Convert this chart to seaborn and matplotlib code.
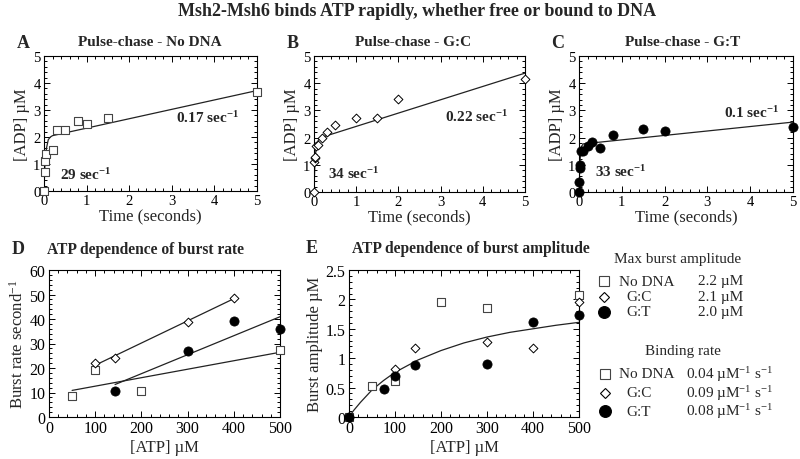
import numpy as np
import pandas as pd
import seaborn as sns
import matplotlib.pyplot as plt
from matplotlib.lines import Line2D
from matplotlib.ticker import MultipleLocator, AutoMinorLocator, FuncFormatter

# pulse-chase, panel A (no DNA)
time_a = [0, 0.02, 0.03, 0.05, 0.2, 0.3, 0.5, 0.8, 1.0, 1.5, 5.0]
adp_a = [0, 0.72, 1.12, 1.38, 1.52, 2.25, 2.27, 2.6, 2.5, 2.7, 3.65]
fit_time_a = [0, 0.01, 0.02, 0.04, 0.06, 0.1, 0.15, 0.2, 0.4, 5.0]
fit_adp_a = [0, 0.5, 0.9, 1.3, 1.6, 1.9, 2.0, 2.05, 2.12, 3.72]

# panel B (G:C)
time_b = [0, 0.01, 0.02, 0.03, 0.05, 0.1, 0.2, 0.3, 0.5, 1.0, 1.5, 2.0, 5.0]
adp_b = [0, 1.1, 1.25, 1.3, 1.68, 1.72, 2.0, 2.22, 2.48, 2.72, 2.72, 3.42, 4.17]
fit_time_b = [0, 0.01, 0.02, 0.04, 0.06, 0.1, 0.15, 0.2, 5.0]
fit_adp_b = [0, 0.55, 1.0, 1.45, 1.7, 1.9, 1.98, 2.02, 4.37]

# panel C (G:T)
time_c = [0, 0.01, 0.02, 0.03, 0.05, 0.1, 0.2, 0.3, 0.5, 0.8, 1.5, 2.0, 5.0]
adp_c = [0, 0.35, 0.9, 1.0, 1.52, 1.5, 1.68, 1.85, 1.6, 2.08, 2.3, 2.23, 2.4]
fit_time_c = [0, 0.01, 0.02, 0.04, 0.06, 0.1, 5.0]
fit_adp_c = [0, 0.6, 1.05, 1.5, 1.68, 1.77, 2.57]

# panel D, burst rate vs ATP
atp_rate_nodna = [50, 100, 200, 500]
rate_nodna = [8.6, 19.2, 10.6, 27.5]
atp_rate_gc = [100, 143, 300, 400]
rate_gc = [22, 24.2, 38.8, 48.7]
atp_rate_gt = [143, 300, 400, 500]
rate_gt = [10.7, 27, 39.2, 35.9]

# panel E, burst amplitude vs ATP
atp_amp_nodna = [0, 50, 100, 200, 300, 500]
amp_nodna = [0, 0.53, 0.62, 1.96, 1.85, 2.07]
atp_amp_gc = [0, 100, 143, 300, 400, 500]
amp_gc = [0, 0.82, 1.18, 1.28, 1.17, 1.96]
atp_amp_gt = [0, 75, 100, 143, 300, 400, 500]
amp_gt = [0, 0.48, 0.69, 0.89, 0.9, 1.62, 1.73]
fit_atp_e = [0, 10, 25, 50, 75, 100, 150, 200, 250, 300, 350, 400, 450, 500]
fit_amp_e = [0, 0.11, 0.25, 0.46, 0.62, 0.76, 0.97, 1.13, 1.26, 1.36, 1.44, 1.5, 1.56, 1.61]

legend_names = ["No DNA", "G:C", "G:T"]
max_amplitude = ["2.2 \u00b5M", "2.1 \u00b5M", "2.0 \u00b5M"]
binding_rate = ["0.04", "0.09", "0.08"]

sns.set_theme(style="ticks")
plt.rcParams["font.family"] = ["Liberation Serif", "DejaVu Serif"]
plt.rcParams["mathtext.fontset"] = "custom"
plt.rcParams["mathtext.rm"] = "Liberation Serif"
plt.rcParams["mathtext.it"] = "Liberation Serif:italic"
plt.rcParams["mathtext.bf"] = "Liberation Serif:bold"

W, H = 800, 460
fig = plt.figure(figsize=(8, 4.6), dpi=100)


def box(l, t, r, b):
    return [l / W, 1 - b / H, (r - l) / W, (b - t) / H]


def ftext(x, y, s, **kw):
    fig.text(x / W, 1 - y / H, s, **kw)


styles = {
    "No DNA": dict(marker="s", s=36, color="white", edgecolor="#444444", linewidth=0.8),
    "G:C": dict(marker="D", s=20, color="white", edgecolor="black", linewidth=0.7),
    "G:T": dict(marker="o", s=44, color="black", edgecolor="black", linewidth=0.5),
}


def style_axes(ax, tick_size):
    ax.tick_params(direction="in", which="both", top=True, right=True,
                   labelsize=tick_size, pad=2.5, width=0.7, colors="black")
    ax.tick_params(which="major", length=4)
    ax.tick_params(which="minor", length=2)
    ax.xaxis.set_minor_locator(AutoMinorLocator(5))
    ax.yaxis.set_minor_locator(AutoMinorLocator(5))
    for sp in ax.spines.values():
        sp.set_linewidth(0.8)
        sp.set_color("black")
        sp.set_visible(True)


def kinetic(ax, t, y, ft, fy, name, fast, fast_xy, slow, slow_xy):
    sns.lineplot(x=ft, y=fy, ax=ax, color="#222222", linewidth=0.9,
                 sort=False, estimator=None)
    sns.scatterplot(x=t, y=y, ax=ax, clip_on=False, zorder=3, **styles[name])
    ax.set_xlim(0, 5)
    ax.set_ylim(0, 5)
    ax.xaxis.set_major_locator(MultipleLocator(1))
    ax.yaxis.set_major_locator(MultipleLocator(1))
    ax.set_xlabel("Time (seconds)", fontsize=12, labelpad=0)
    ax.set_ylabel("[ADP] \u00b5M", fontsize=12, labelpad=2)
    style_axes(ax, 10.5)
    ax.text(*fast_xy, fast + " sec$^{\\mathbf{-1}}$", fontsize=11,
            fontweight="bold", va="center")
    ax.text(*slow_xy, slow + " sec$^{\\mathbf{-1}}$", fontsize=11,
            fontweight="bold", va="center")


ax_a = fig.add_axes(box(44, 57, 257, 192))
kinetic(ax_a, time_a, adp_a, fit_time_a, fit_adp_a, "No DNA",
        "29", (0.37, 0.62), "0.17", (3.1, 2.75))
ax_b = fig.add_axes(box(314, 57, 525, 193))
kinetic(ax_b, time_b, adp_b, fit_time_b, fit_adp_b, "G:C",
        "34", (0.33, 0.7), "0.22", (3.1, 2.78))
ax_c = fig.add_axes(box(579, 57, 793, 193))
kinetic(ax_c, time_c, adp_c, fit_time_c, fit_adp_c, "G:T",
        "33", (0.37, 0.78), "0.1", (3.38, 2.95))

# panel D
ax_d = fig.add_axes(box(49, 271, 280, 418))
for xs, ys, name in [(atp_rate_nodna, rate_nodna, "No DNA"),
                     (atp_rate_gc, rate_gc, "G:C"),
                     (atp_rate_gt, rate_gt, "G:T")]:
    sns.regplot(x=np.array(xs), y=np.array(ys), ax=ax_d, ci=None, scatter=False,
                truncate=True, line_kws=dict(color="#222222", linewidth=0.9))
    sns.scatterplot(x=xs, y=ys, ax=ax_d, clip_on=False, zorder=3, **styles[name])
ax_d.set_xlim(0, 500)
ax_d.set_ylim(0, 60)
ax_d.xaxis.set_major_locator(MultipleLocator(100))
ax_d.yaxis.set_major_locator(MultipleLocator(10))
ax_d.set_xlabel("[ATP] \u00b5M", fontsize=12, labelpad=2)
ax_d.set_ylabel("Burst rate second$^{-1}$", fontsize=12, labelpad=2)
style_axes(ax_d, 11.5)

# panel E
ax_e = fig.add_axes(box(349, 271, 579, 418))
sns.lineplot(x=fit_atp_e, y=fit_amp_e, ax=ax_e, color="#222222", linewidth=0.9,
             sort=False, estimator=None)
for xs, ys, name in [(atp_amp_nodna, amp_nodna, "No DNA"),
                     (atp_amp_gc, amp_gc, "G:C"),
                     (atp_amp_gt, amp_gt, "G:T")]:
    sns.scatterplot(x=xs, y=ys, ax=ax_e, clip_on=False, zorder=3, **styles[name])
ax_e.set_xlim(0, 500)
ax_e.set_ylim(0, 2.5)
ax_e.xaxis.set_major_locator(MultipleLocator(100))
ax_e.yaxis.set_major_locator(MultipleLocator(0.5))
ax_e.yaxis.set_major_formatter(FuncFormatter(lambda v, p: f"{v:g}"))
ax_e.set_xlabel("[ATP] \u00b5M", fontsize=12, labelpad=2)
ax_e.set_ylabel("Burst amplitude \u00b5M", fontsize=12, labelpad=2)
style_axes(ax_e, 11.5)

# titles and panel letters
ftext(417, 12, "Msh2-Msh6 binds ATP rapidly, whether free or bound to DNA",
      ha="center", va="center", fontsize=13, fontweight="bold")
for x, letter in [(23, "A"), (293, "B"), (558, "C")]:
    ftext(x, 43, letter, ha="center", va="center", fontsize=13, fontweight="bold")
for x, title in [(150, "Pulse-chase - No DNA"), (413, "Pulse-chase - G:C"),
                 (683, "Pulse-chase - G:T")]:
    ftext(x, 43, title, ha="center", va="center", fontsize=11, fontweight="bold")
ftext(18, 250, "D", ha="center", va="center", fontsize=13, fontweight="bold")
ftext(47, 250, "ATP dependence of burst rate", ha="left", va="center",
      fontsize=11.2, fontweight="bold")
ftext(312, 249, "E", ha="center", va="center", fontsize=13, fontweight="bold")
ftext(352, 249, "ATP dependence of burst amplitude", ha="left", va="center",
      fontsize=11.2, fontweight="bold")

# legend block
marker_size = {"No DNA": 7.5, "G:C": 5.5, "G:T": 8.5}


def legend_marker(x, y, name):
    st = styles[name]
    fig.add_artist(Line2D([x / W], [1 - y / H], transform=fig.transFigure,
                          marker=st["marker"], markersize=marker_size[name],
                          markerfacecolor=st["color"], markeredgecolor=st["edgecolor"],
                          markeredgewidth=0.8, linestyle="none"))


ftext(678, 260, "Max burst amplitude", ha="center", va="center", fontsize=11)
for i, (name, val) in enumerate(zip(legend_names, max_amplitude)):
    y = 282 + 15.5 * i
    legend_marker(604, y, name)
    ftext(619 if i == 0 else 626, y, name, ha="left", va="center", fontsize=11)
    ftext(698, y, val, ha="left", va="center", fontsize=11)

ftext(683, 351, "Binding rate", ha="center", va="center", fontsize=11)
for i, (name, val) in enumerate(zip(legend_names, binding_rate)):
    y = 375 + 18.5 * i
    legend_marker(605, y, name)
    ftext(619 if i == 0 else 626, y, name, ha="left", va="center", fontsize=11)
    ftext(686, y, val + " \u00b5M$^{-1}$ s$^{-1}$", ha="left", va="center", fontsize=11)

fig.savefig("out.png", dpi=100)
